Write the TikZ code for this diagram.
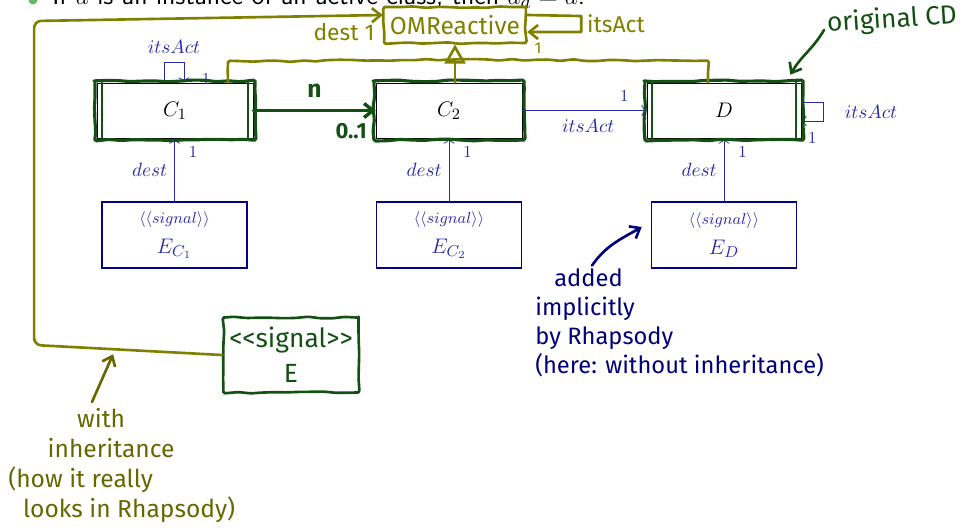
\documentclass[tikz,border=0pt]{standalone}
\usepackage{fontspec}
\usetikzlibrary{arrows.meta,decorations.pathmorphing,positioning}
\newfontfamily\handfont{Fira Sans}
\definecolor{umlblue}{RGB}{40,40,170}
\definecolor{boxblue}{RGB}{0,0,140}
\definecolor{penolive}{RGB}{128,128,0}
\definecolor{pengreen}{RGB}{20,80,20}
\definecolor{pennavy}{RGB}{0,0,120}
\definecolor{bulletgreen}{RGB}{100,185,100}

\begin{document}
\begin{tikzpicture}[x=0.02cm,y=-0.02cm,
  cls/.style={draw,thin,fill=white,minimum height=1.1cm,font=\fontsize{12.5}{14}\selectfont},
  active/.style={path picture={\draw ([xshift=3pt]path picture bounding box.north west) -- ([xshift=3pt]path picture bounding box.south west)
      ([xshift=-3pt]path picture bounding box.north east) -- ([xshift=-3pt]path picture bounding box.south east);}},
  sig/.style={draw=boxblue,line width=0.9pt,minimum width=2.9cm,minimum height=1.32cm,align=center,text=umlblue},
  uml/.style={umlblue,thin,-{To[length=3pt]}},
  lab/.style={text=umlblue,font=\fontsize{11}{13}\selectfont,inner sep=1pt},
  one/.style={text=umlblue,font=\fontsize{9.5}{11}\selectfont,inner sep=1pt},
  hand/.style={decorate,decoration={random steps,segment length=7pt,amplitude=0.5pt},rounded corners=1pt},
  pen/.style={line width=1.5pt,line cap=round,line join=round},
  barb/.style={-{Straight Barb[length=5pt,width=8pt]}},
  note/.style={font=\handfont\fontsize{13.5}{16.5}\selectfont,align=left,inner sep=0pt}]
\pgfmathsetseed{7}
\useasboundingbox (0,0) rectangle (961,528);

\fill[bulletgreen] (33,0) circle (4.5);
\node[anchor=base west,inner sep=0pt,font=\sffamily\fontsize{15}{17}\selectfont] (intro) at (52,4)
  {If $a$ is an instance of an active class, then $a_d = a$.};

\node[cls,active,minimum width=3.12cm] (C1) at (175,110.5) {$C_1$};
\node[cls,minimum width=2.92cm] (C2) at (449,110.5) {$C_2$};
\node[cls,active,minimum width=3.08cm] (D) at (724,110.5) {$D$};

\node[sig] (EC1) at (174.5,235) {{\fontsize{9.5}{11}\selectfont$\langle\langle signal\rangle\rangle$}\\[5pt]{\fontsize{12.5}{14}\selectfont$E_{C_1}$}};
\node[sig] (EC2) at (449,235) {{\fontsize{9.5}{11}\selectfont$\langle\langle signal\rangle\rangle$}\\[5pt]{\fontsize{12.5}{14}\selectfont$E_{C_2}$}};
\node[sig] (ED) at (724,235) {{\fontsize{9.5}{11}\selectfont$\langle\langle signal\rangle\rangle$}\\[5pt]{\fontsize{12.5}{14}\selectfont$E_D$}};

\foreach \n/\m in {EC1/C1,EC2/C2,ED/D}
  \draw[uml] (\n.north) -- (\n.north |- \m.south)
    node[lab,left=3pt,pos=0.5] {$dest$} node[one,right=7pt,pos=0.78] {1};

\draw[uml] ([xshift=-0.22cm]C1.north) -- ++(0,-20) -| ([xshift=0.18cm]C1.north)
  node[lab,pos=0.25,above=4pt] {$itsAct$} node[one,pos=0.9,right=9pt] {1};
\draw[uml] (C2) -- (D) node[one,pos=0.82,above=4pt] {1} node[lab,pos=0.53,below=4pt] {$itsAct$};
\draw[uml] ([yshift=0.17cm]D.east) -- ++(22,0) |- ([yshift=-0.21cm]D.east)
  node[lab,pos=0.25,right=11pt] {$itsAct$} node[one,pos=0.75,below=5pt] {1};

% pen annotations
\foreach \n in {C1,C2,D}
  \draw[pen,pengreen,hand,line width=1.8pt] ([shift={(-1pt,1pt)}]\n.north west) rectangle ([shift={(1pt,-1pt)}]\n.south east);
\foreach \n in {C1,D}
  \draw[pen,pengreen,line width=1.3pt] ([xshift=3pt]\n.north west) -- ([xshift=3pt]\n.south west)
    ([xshift=-3pt]\n.north east) -- ([xshift=-3pt]\n.south east);
\draw[pen,pengreen,line width=2pt,barb] (C1) -- (C2)
  node[pos=0.5,above=3pt,font=\handfont\bfseries\fontsize{14}{15}\selectfont] {n}
  node[pos=0.8,below=3pt,font=\handfont\bfseries\fontsize{12.5}{15}\selectfont] {0..1};

\node[draw=penolive,pen,hand,text=penolive,minimum width=2.66cm,minimum height=0.72cm,
  font=\handfont\fontsize{14}{15}\selectfont] (omr) at (455,25) {OMReactive};
\draw[pen,penolive,{Triangle[open,length=11pt,width=12pt]}-] (omr.south) -- (omr.south |- C2.north);
\draw[pen,penolive,hand] ([xshift=1.06cm]C1.north) -- ++(0,-21) -- ++(220,-2) -- ++(260,1) -- ++(0,22);
\draw[pen,penolive,barb] ([yshift=0.2cm]omr.east) -- ++(54,1) -- ++(0,16) -- ([yshift=-0.14cm]omr.east)
  node[pos=0.8,below=2pt,text=penolive,font=\handfont\fontsize{9}{10}\selectfont] {1};
\node[anchor=west,text=penolive,font=\handfont\fontsize{13}{14}\selectfont] (ia) at (581,24) {itsAct};
\node[text=penolive,font=\handfont\fontsize{13}{14}\selectfont] (dst) at (344,32) {dest 1};

\node[draw=pengreen,pen,hand,text=pengreen,minimum width=2.46cm,minimum height=1.5cm,align=center,
  font=\handfont\fontsize{15}{20}\selectfont] (E) at (291,355) {\textless\textless signal\textgreater\textgreater\\E};
\draw[pen,penolive,barb,rounded corners=4pt] (E.west) -- ++(-188,-10) coordinate[pos=0.58] (inh)
  -- ++(0,-324) -- ([yshift=0.2cm]omr.west);

\node[note,text=pengreen,rotate=4,font=\handfont\fontsize{15}{17}\selectfont] (ocd) at (892,20) {original CD};
\draw[pen,pengreen,barb] (824,30) to[out=240,in=60] ([xshift=-0.22cm,yshift=0.16cm]D.north east);

\node[note,text=pennavy,anchor=north west] (impl) at (535,268)
  {\hspace{0.8em}added\\implicitly\\by Rhapsody\\(here: without inheritance)};
\draw[pen,pennavy,barb] ([xshift=1.14cm,yshift=0.05cm]impl.north west) to[out=55,in=210] ([xshift=-0.18cm,yshift=0.16cm]ED.west);

\node[note,text=penolive!80!black,anchor=north west,font=\handfont\fontsize{14}{17}\selectfont] (wi) at (8,408)
  {\hspace{2.8em}with\\\hspace{1.6em}inheritance\\(how it really\\\hspace{0.6em}looks in Rhapsody)};
\draw[pen,penolive!80!black,barb] ([xshift=1.68cm,yshift=0.12cm]wi.north west) -- ([yshift=-0.1cm]inh);
\end{tikzpicture}
\end{document}
